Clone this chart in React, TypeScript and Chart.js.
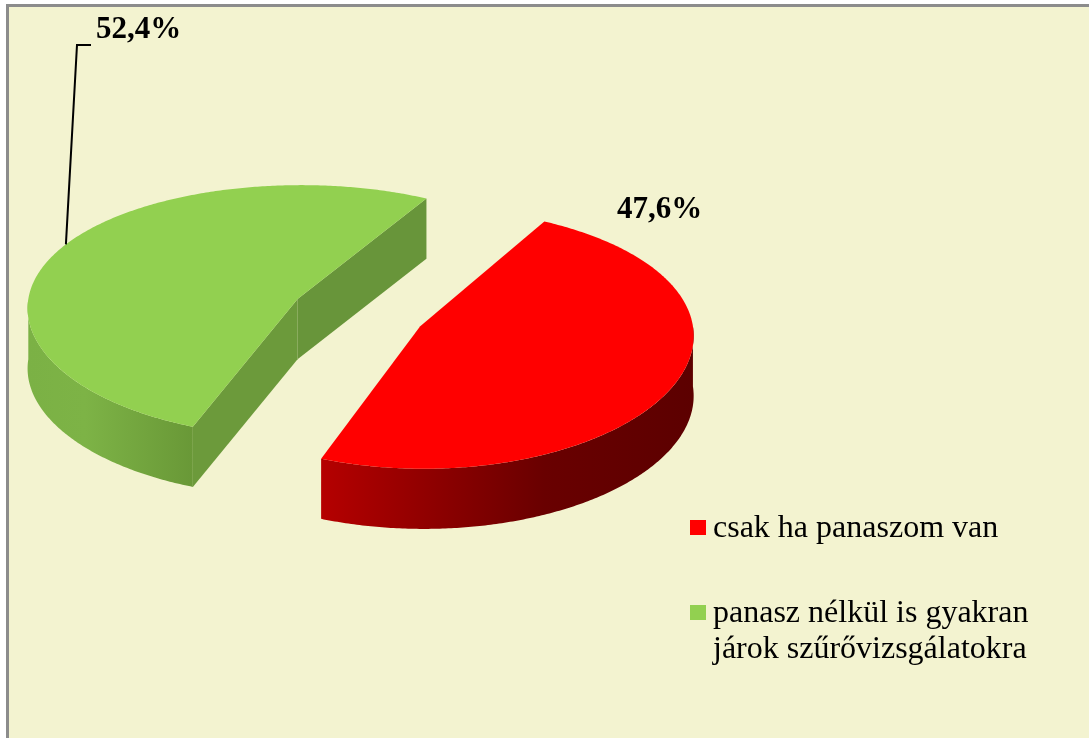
import React, { useEffect, useRef } from "react";
import { Chart, registerables } from "chart.js";

Chart.register(...registerables);

// ---- data ----
const categories: string[][] = [
  ["csak ha panaszom van"],
  ["panasz nélkül is gyakran", "járok szűrővizsgálatokra"],
];
const values: number[] = [47.6, 52.4];
const valueLabels: string[] = values.map((v) => v.toFixed(1).replace(".", ",") + "%");

// ---- styles ----
const topColors = ["#FF0000", "#92D050"];
const wallStops: [number, string][][] = [
  [
    [0, "#B50000"],
    [0.3, "#8E0000"],
    [0.6, "#690000"],
    [1, "#5C0000"],
  ],
  [
    [0, "#7BB145"],
    [0.35, "#7DB346"],
    [1, "#699837"],
  ],
];
const cutColors = [
  ["#8A0000", "#8A0000"],
  ["#6C9A3B", "#68953A"],
];

const W = 1089;
const H = 738;
const SERIF = "'Liberation Serif', 'Times New Roman', serif";

const pie3d = {
  id: "pie3d",
  beforeDatasetsDraw(chart: any) {
    const meta = chart.getDatasetMeta(0);
    const arcs = meta.data;
    if (!arcs || !arcs.length) return false;
    const ctx: CanvasRenderingContext2D = chart.ctx;
    const c = arcs[0].getProps(["x", "y", "outerRadius"], true);
    const cx = c.x, cy = c.y, R = c.outerRadius;
    const S = 0.473, K = 0.092, P = 0.06;
    const EXP = 0.25 * R;
    const DEPTH = 0.222 * R;
    const proj = (X: number, Y: number, h: number) => ({
      x: cx + X * (1 + (P * Y) / R),
      y: cy + Y * S * (1 + (K * Y) / R) + h,
    });

    const slices = arcs
      .map((a: any, i: number) => {
        const p = a.getProps(["startAngle", "endAngle"], true);
        const m = (p.startAngle + p.endAngle) / 2;
        return { i, a0: p.startAngle, a1: p.endAngle, ax: EXP * Math.cos(m), ay: EXP * Math.sin(m) };
      })
      .sort((u: any, v: any) => u.ay - v.ay);

    const edge = (sl: any, t: number, h: number) =>
      proj(sl.ax + R * Math.cos(t), sl.ay + R * Math.sin(t), h);

    const samples = (lo: number, hi: number) => {
      const n = Math.max(8, Math.ceil((hi - lo) / 0.01));
      const out: number[] = [];
      for (let k = 0; k <= n; k++) out.push(lo + ((hi - lo) * k) / n);
      return out;
    };

    ctx.save();
    for (const sl of slices) {
      const apexTop = proj(sl.ax, sl.ay, 0);
      const apexBot = proj(sl.ax, sl.ay, DEPTH);

      // cut faces
      const faces: [number, boolean, string][] = [
        [sl.a0, Math.cos(sl.a0) < 0, cutColors[sl.i][0]],
        [sl.a1, Math.cos(sl.a1) > 0, cutColors[sl.i][1]],
      ];
      for (const [t, vis, col] of faces) {
        if (!vis) continue;
        const et = edge(sl, t, 0);
        const eb = edge(sl, t, DEPTH);
        ctx.beginPath();
        ctx.moveTo(apexTop.x, apexTop.y);
        ctx.lineTo(et.x, et.y);
        ctx.lineTo(eb.x, eb.y);
        ctx.lineTo(apexBot.x, apexBot.y);
        ctx.closePath();
        ctx.fillStyle = col;
        ctx.fill();
      }

      // outer walls (front half only)
      for (let n = -2; n <= 2; n++) {
        const lo = Math.max(sl.a0, 2 * Math.PI * n);
        const hi = Math.min(sl.a1, 2 * Math.PI * n + Math.PI);
        if (hi <= lo) continue;
        const ts = samples(lo, hi);
        const topPts = ts.map((t) => edge(sl, t, 0));
        const botPts = ts.map((t) => edge(sl, t, DEPTH)).reverse();
        const xs = topPts.map((p) => p.x);
        const x0 = Math.min(...xs), x1 = Math.max(...xs);
        const g = ctx.createLinearGradient(x0, 0, x1, 0);
        for (const [o, col] of wallStops[sl.i]) g.addColorStop(o, col);
        ctx.beginPath();
        topPts.forEach((p, k) => (k ? ctx.lineTo(p.x, p.y) : ctx.moveTo(p.x, p.y)));
        botPts.forEach((p) => ctx.lineTo(p.x, p.y));
        ctx.closePath();
        ctx.fillStyle = g;
        ctx.fill();
      }

      // top face
      ctx.beginPath();
      ctx.moveTo(apexTop.x, apexTop.y);
      samples(sl.a0, sl.a1).forEach((t) => {
        const p = edge(sl, t, 0);
        ctx.lineTo(p.x, p.y);
      });
      ctx.closePath();
      ctx.fillStyle = topColors[sl.i];
      ctx.fill();
    }

    // data labels
    ctx.fillStyle = "#000000";
    ctx.font = `bold 31px ${SERIF}`;
    ctx.textBaseline = "alphabetic";
    ctx.textAlign = "left";
    ctx.fillText(valueLabels[0], 617, 218);
    ctx.fillText(valueLabels[1], 96, 38);

    // leader line for the green label
    const g = slices.find((s: any) => s.i === 1);
    const anchor = edge(g, (207 * Math.PI) / 180, 0);
    ctx.beginPath();
    ctx.moveTo(anchor.x, anchor.y);
    ctx.lineTo(77, 45);
    ctx.lineTo(91, 45);
    ctx.lineWidth = 2;
    ctx.strokeStyle = "#000000";
    ctx.stroke();

    // legend
    ctx.font = `32px ${SERIF}`;
    const legendY = [537, 622];
    const lineGap = 36;
    categories.forEach((lines, i) => {
      ctx.fillStyle = topColors[i];
      ctx.fillRect(690, legendY[i] - 17, 16, 15);
      ctx.fillStyle = "#000000";
      lines.forEach((ln, k) => ctx.fillText(ln, 713, legendY[i] + k * lineGap));
    });

    ctx.restore();
    return false;
  },
};

export default function App() {
  const ref = useRef<HTMLCanvasElement | null>(null);
  useEffect(() => {
    if (!ref.current) return;
    const chart = new Chart(ref.current, {
      type: "pie",
      data: {
        labels: categories,
        datasets: [
          {
            data: values,
            backgroundColor: topColors,
            borderWidth: 0,
            offset: 0,
            hoverOffset: 0,
          },
        ],
      },
      options: {
        responsive: false,
        animation: false,
        rotation: 29.5,
        layout: { padding: { left: 87.5, top: 41.5, right: 459.5, bottom: 154.5 } },
        plugins: { legend: { display: false }, tooltip: { enabled: false }, title: { display: false } },
        events: [],
      },
      plugins: [pie3d],
    });
    return () => chart.destroy();
  }, []);

  return (
    <div style={{ position: "absolute", left: 0, top: 0, width: W, height: H, background: "#FFFFFF", overflow: "hidden" }}>
      <div
        style={{
          position: "absolute",
          left: 6,
          top: 4,
          right: 0,
          bottom: 0,
          background: "#F3F3D0",
          borderTop: "3px solid #8C8C8C",
          borderLeft: "3px solid #8C8C8C",
        }}
      />
      <canvas ref={ref} width={W} height={H} style={{ position: "absolute", left: 0, top: 0, display: "block" }} />
    </div>
  );
}
